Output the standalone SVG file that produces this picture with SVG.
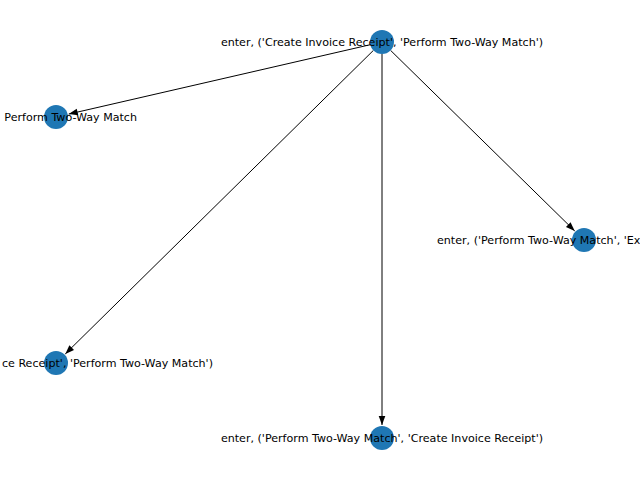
<svg xmlns="http://www.w3.org/2000/svg" width="640" height="480" viewBox="0 0 640 480">
<style>
.node{fill:#1f77b4}
.lbl{font-family:"DejaVu Sans",sans-serif;font-size:11.1px;fill:#000;dominant-baseline:central}
.edge{stroke:#000;stroke-width:1;fill:none;marker-end:url(#arr)}
</style>
<defs>
<marker id="arr" markerUnits="userSpaceOnUse" viewBox="-10 -4 10 8" refX="0" refY="0" markerWidth="10" markerHeight="8" orient="auto">
<path d="M0,0 L-9,-3.3 L-9,3.3 z" fill="#000"/>
</marker>
</defs>
<rect width="640" height="480" fill="#fff"/>
<g id="edges">
<line class="edge" x1="370.3" y1="44.7" x2="68.7" y2="114.1"/>
<line class="edge" x1="373.4" y1="50.4" x2="65.3" y2="353.9"/>
<line class="edge" x1="382" y1="54" x2="382" y2="425"/>
<line class="edge" x1="390.6" y1="50.4" x2="574.7" y2="230.9"/>
</g>
<g id="n_top"><circle class="node" cx="382" cy="42" r="12"/><text class="lbl" x="382" y="42" text-anchor="middle">enter, ('Create Invoice Receipt', 'Perform Two-Way Match')</text></g>
<g id="n_left1"><circle class="node" cx="56" cy="117" r="12"/><text class="lbl" x="137" y="117" text-anchor="end">Perform Two-Way Match</text></g>
<g id="n_left2"><circle class="node" cx="56" cy="363" r="12"/><text class="lbl" x="213" y="363" text-anchor="end">ce Receipt', 'Perform Two-Way Match')</text></g>
<g id="n_bottom"><circle class="node" cx="382" cy="438" r="12"/><text class="lbl" x="382" y="438" text-anchor="middle">enter, ('Perform Two-Way Match', 'Create Invoice Receipt')</text></g>
<g id="n_right"><circle class="node" cx="584" cy="240" r="12"/><text class="lbl" x="437" y="240" text-anchor="start">enter, ('Perform Two-Way Match', 'Ex</text></g>
</svg>
